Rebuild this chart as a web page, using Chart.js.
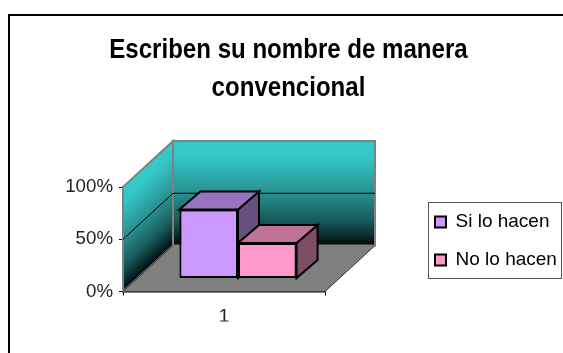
<!DOCTYPE html>
<html>
<head>
<meta charset="utf-8">
<style>
html, body { margin: 0; padding: 0; background: #fff; overflow: hidden; }
#graphCanvas { display: block; }
</style>
<script src="https://cdn.jsdelivr.net/npm/chart.js@4"></script>
</head>
<body>
<div style="width:563px;height:353px"><canvas id="graphCanvas"></canvas></div>
<script>
var titleLines = ['Escriben su nombre de manera', 'convencional'];
var categories = ['1'];
var siLoHacen = [66];
var noLoHacen = [34];
var yTicks = [0, 50, 100];

// depth of the floor and of the bars, in pixels
var floorX = 50, floorY = 46;
var barX = 21, barY = 18;
var barShift = 14, barLift = 13;
var titleCentre = 288.5, titleSqueeze = 0.875;

function poly(ctx, pts, fill, stroke, width) {
    ctx.beginPath();
    ctx.moveTo(pts[0][0], pts[0][1]);
    for (var i = 1; i < pts.length; i++) ctx.lineTo(pts[i][0], pts[i][1]);
    ctx.closePath();
    if (fill) { ctx.fillStyle = fill; ctx.fill(); }
    if (stroke) { ctx.strokeStyle = stroke; ctx.lineWidth = width; ctx.stroke(); }
}

var box3d = {
    id: 'box3d',
    afterLayout: function (chart) {
        // title is centred on the frame, legend sits beside the plot
        var t = chart.titleBlock;
        t.left = 14; t.right = 563; t.top = -3; t.bottom = 184;
        if (!t.squeezed) {
            // the original title is a condensed bold, no such font here
            var drawTitle = t.draw;
            t.draw = function (area) {
                var ctx = chart.ctx;
                ctx.save();
                ctx.translate(titleCentre, 0);
                ctx.scale(titleSqueeze, 1);
                ctx.translate(-titleCentre, 0);
                drawTitle.call(t, area);
                ctx.restore();
            };
            t.squeezed = true;
        }
        var l = chart.legend, w = l.width, h = l.height;
        l.left = 416; l.right = 416 + w; l.top = 193.5; l.bottom = 193.5 + h;
    },
    beforeDraw: function (chart) {
        var ctx = chart.ctx;
        ctx.fillStyle = '#fff';
        ctx.fillRect(0, 0, chart.width, chart.height);
        ctx.strokeStyle = '#000';
        ctx.lineWidth = 2;
        ctx.beginPath();
        ctx.moveTo(9, 353);
        ctx.lineTo(9, 15);
        ctx.lineTo(563, 15);
        ctx.stroke();
    },
    beforeDatasetsDraw: function (chart) {
        var ctx = chart.ctx, a = chart.chartArea, y = chart.scales.y;
        var y0 = y.getPixelForValue(0), y100 = y.getPixelForValue(100), h = y0 - y100;
        var grad = ctx.createLinearGradient(0, 0, 0, h);
        grad.addColorStop(0, '#33CCCC');
        grad.addColorStop(0.15, '#33C6C6');
        grad.addColorStop(0.5, '#288F8F');
        grad.addColorStop(0.75, '#1A5C5C');
        grad.addColorStop(0.9, '#0A2E2E');
        grad.addColorStop(1, '#010606');

        // back wall
        ctx.save();
        ctx.fillStyle = grad;
        ctx.translate(a.left + floorX, y100 - floorY);
        ctx.fillRect(0, 0, a.right - a.left, h);
        ctx.restore();

        // left wall, same gradient sheared
        ctx.save();
        ctx.fillStyle = grad;
        ctx.transform(1, -floorY / floorX, 0, 1, a.left, y100);
        ctx.fillRect(0, 0, floorX, h);
        ctx.restore();

        // floor
        poly(ctx, [[a.left, y0], [a.right, y0], [a.right + floorX, y0 - floorY], [a.left + floorX, y0 - floorY]], '#808080');

        // wall edges
        poly(ctx, [[a.left + floorX, y100 - floorY], [a.right + floorX, y100 - floorY], [a.right + floorX, y0 - floorY], [a.left + floorX, y0 - floorY]], null, '#808080', 2);
        poly(ctx, [[a.left, y100], [a.left + floorX, y100 - floorY], [a.left + floorX, y0 - floorY], [a.left, y0]], null, '#808080', 2);
        ctx.strokeStyle = '#333';
        ctx.lineWidth = 1;
        ctx.beginPath();
        ctx.moveTo(a.left, y0);
        ctx.lineTo(a.left + floorX, y0 - floorY);
        ctx.moveTo(a.right, y0);
        ctx.lineTo(a.right + floorX, y0 - floorY);
        ctx.stroke();

        // gridlines on the walls
        ctx.strokeStyle = '#000';
        ctx.lineWidth = 1;
        ctx.beginPath();
        yTicks.slice(1, -1).forEach(function (v) {
            var p = y.getPixelForValue(v);
            ctx.moveTo(a.left, p);
            ctx.lineTo(a.left + floorX, p - floorY);
            ctx.lineTo(a.right + floorX, p - floorY);
        });
        ctx.stroke();

        // bars stand further back than the front plane
        ctx.save();
        ctx.translate(barShift, -barLift);
        var tops = ['#9973BF', '#BF7399'], sides = ['#665080', '#804D66'];
        chart.data.datasets.forEach(function (ds, i) {
            chart.getDatasetMeta(i).data.forEach(function (bar) {
                var l = bar.x - bar.width / 2, r = bar.x + bar.width / 2;
                poly(ctx, [[r, bar.y], [r + barX, bar.y - barY], [r + barX, bar.base - barY], [r, bar.base]], sides[i], '#000', 2);
                poly(ctx, [[l, bar.y], [l + barX, bar.y - barY], [r + barX, bar.y - barY], [r, bar.y]], tops[i], '#000', 2);
            });
        });
    },
    afterDatasetsDraw: function (chart) {
        chart.ctx.restore();
    },
    afterDraw: function (chart) {
        var ctx = chart.ctx;
        ctx.strokeStyle = '#555';
        ctx.lineWidth = 1;
        ctx.strokeRect(428.5, 202.5, 133, 76);
    }
};

var graphTarget = document.getElementById('graphCanvas');

new Chart(graphTarget, {
    type: 'bar',
    data: {
        labels: categories,
        datasets: [
            { label: 'Si lo hacen', data: siLoHacen, backgroundColor: '#CC99FF', borderColor: '#000', borderWidth: 2, borderSkipped: false, clip: false },
            { label: 'No lo hacen', data: noLoHacen, backgroundColor: '#FF99CC', borderColor: '#000', borderWidth: 2, borderSkipped: false, clip: false }
        ]
    },
    options: {
        responsive: true,
        maintainAspectRatio: false,
        animation: false,
        categoryPercentage: 0.58,
        barPercentage: 1,
        layout: { padding: { left: 18, right: 238, top: 0, bottom: 31.5 } },
        plugins: {
            title: {
                display: true,
                text: titleLines,
                color: '#000',
                font: { family: 'Liberation Sans', size: 27.5, weight: 'bold', lineHeight: 1.382 },
                padding: { top: 34, bottom: 77 }
            },
            legend: {
                position: 'chartArea',
                align: 'start',
                labels: {
                    color: '#000',
                    font: { family: 'Liberation Sans', size: 19 },
                    boxWidth: 11,
                    boxHeight: 11,
                    padding: 19
                }
            },
            tooltip: { enabled: false }
        },
        scales: {
            x: {
                afterFit: function (s) { s.height = 30; },
                border: { color: '#000', width: 1.5 },
                grid: { drawOnChartArea: false, color: '#000', tickLength: 4, offset: true },
                ticks: { color: '#222', font: { family: 'Liberation Sans', size: 19 }, padding: 10 }
            },
            y: {
                min: 0,
                max: 100,
                afterFit: function (s) { s.width = 105; },
                afterBuildTicks: function (s) {
                    s.ticks = yTicks.map(function (v) { return { value: v }; });
                },
                border: { color: '#000', width: 1.5 },
                grid: { drawOnChartArea: false, color: '#000', tickLength: 4 },
                ticks: {
                    color: '#222',
                    font: { family: 'Liberation Sans', size: 18.7 },
                    padding: 6,
                    callback: function (v) { return v + '%'; }
                }
            }
        }
    },
    plugins: [box3d]
});
</script>
</body>
</html>
